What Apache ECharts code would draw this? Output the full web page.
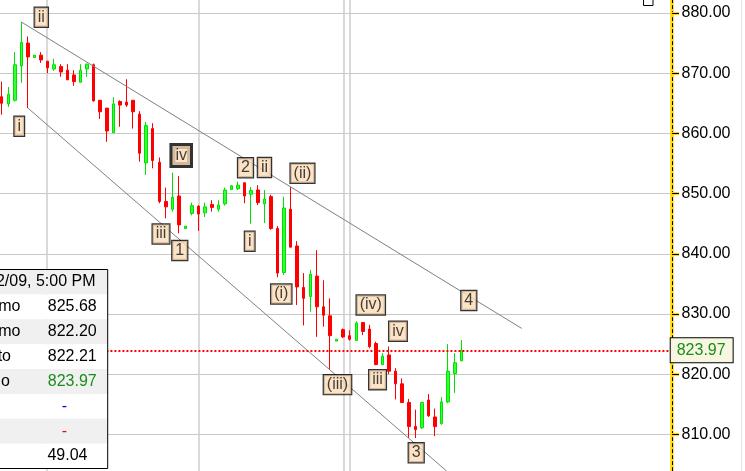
<!DOCTYPE html>
<html><head><meta charset="utf-8">
<script src="https://cdn.jsdelivr.net/npm/echarts@6/dist/echarts.min.js"></script>
<style>html,body{margin:0;padding:0;background:#fff}#c{width:745px;height:471px}</style>
</head><body><div id="c"></div>
<script>
// ---- data ----
const opens  = [866.1,864.9,865.5,871.2,875.0,872.6,873.0,872.0,870.7,871.1,870.5,869.7,868.5,870.7,871.4,865.5,864.2,860.1,865.3,865.2,
                865.5,863.2,855.1,860.8,855.2,848.7,847.4,849.6,844.2,846.7,847.9,846.8,848.2,847.4,848.3,850.7,850.8,851.8,849.9,850.6,
                848.3,849.5,844.2,836.9,847.4,841.3,834.4,832.9,836.3,831.2,829.7,825.5,827.4,826.4,825.6,828.6,827.5,825.1,821.6,823.2,
                820.5,818.4,815.3,811.3,811.1,815.7,812.9,811.8,815.4,820.1,822.21];
const highs  = [868.6,867.7,873.5,878.5,876.1,873.0,873.5,872.0,872.4,871.5,871.5,870.5,871.5,871.6,871.6,865.5,864.2,866.0,865.5,869.0,
                865.5,863.7,861.9,861.7,856.0,851.0,853.5,852.9,844.6,848.5,848.1,848.5,848.9,848.9,851.0,851.4,852.0,851.8,851.1,851.4,
                850.6,849.8,844.6,849.5,851.1,842.1,836.8,837.3,840.6,835.6,832.6,825.8,827.6,827.3,828.8,828.6,828.2,825.4,823.5,824.6,
                821.0,819.3,815.9,814.1,815.4,816.7,814.3,816.2,825.0,823.5,825.68];
const lows   = [863.1,864.4,865.3,868.4,864.2,872.6,871.7,870.0,870.4,869.4,868.9,867.9,868.5,869.4,865.3,862.4,858.6,860.1,861.1,864.4,
                860.8,855.3,853.1,854.2,848.4,845.9,847.0,843.4,844.2,846.4,843.8,846.1,847.0,847.0,848.0,850.6,850.6,848.4,845.0,848.1,
                845.1,844.0,836.1,836.5,841.1,831.5,828.1,830.4,826.2,827.9,820.7,825.5,826.0,825.6,825.6,826.5,824.3,821.5,821.5,820.0,
                815.8,815.2,809.4,809.4,810.9,812.9,809.7,811.6,815.2,816.9,822.20];
const closes = [865.0,866.5,871.4,875.1,872.7,873.0,872.2,870.9,871.4,870.2,868.9,868.6,870.5,871.5,865.4,863.6,860.4,864.9,864.7,864.7,
                863.6,856.7,861.3,855.5,848.7,847.8,849.4,844.8,844.6,848.0,846.6,847.8,847.7,848.1,850.6,851.3,851.4,849.6,850.5,848.5,
                849.1,844.2,836.8,847.6,841.1,834.5,832.6,836.6,831.2,829.8,826.4,825.8,826.2,825.8,828.5,827.1,824.6,821.6,823.0,820.5,
                818.4,815.3,811.3,810.8,815.3,813.1,811.3,815.4,820.5,821.9,823.97];

// wave annotations: text, bar index, price
const waveText  = ['ii','i','iv','iii','1','2','ii','i','(ii)','(i)','(iii)','(iv)','iv','iii','3','4'];
const waveIndex = [6.03,2.67,27.34,24.26,27.12,37.13,40.02,37.77,45.81,42.58,51.14,56.21,60.35,57.24,63.13,71.14];
const wavePrice = [879.29,861.18,856.33,843.29,840.55,854.29,854.34,842.09,853.37,833.32,818.26,831.50,827.14,819.09,806.94,832.24];

// channel lines: [bar index, price]
const upperChannel = [[3, 878.5], [79.2, 827.6]];
const lowerChannel = [[4, 864.2], [67.77, 803.9]];

// session separators (bar index positions)
const sessionBreaks = [6.9, 30.05, 52.06, 52.97];

// info panel
const infoDate = '12/02/09, 5:00 PM';
const infoLabels = ['Máximo', 'Mínimo', 'Abierto', 'Precio'];
const infoIndicator = 49.04;

// ---- chart ----
const FONT = '"Liberation Sans", Arial, sans-serif';
const N_BANDS = 103;
const categories = opens.map((_, i) => String(i + 1));
while (categories.length < N_BANDS) categories.push('');
const candleData = opens.map((o, i) => [o, closes[i], lows[i], highs[i]]);
const last = opens.length - 1;
const lastClose = closes[last];

const chart = echarts.init(document.getElementById('c'), null, {renderer: 'canvas'});

// info box graphic
const boxTop = 269.5, rowH = 24.875, boxLeft = -20, boxRight = 107.7;
const labelRight = [20.5, 20.5, 11, 10];
const ZB = 100;
const infoChildren = [];
for (let r = 0; r < 8; r++) {
  infoChildren.push({type: 'rect', z: ZB, shape: {x: boxLeft, y: boxTop + r * rowH, width: boxRight - boxLeft, height: rowH},
    style: {fill: (r % 2 === 0) ? '#f0f0f0' : '#ffffff'}});
}
infoChildren.push({type: 'rect', z: ZB + 1, shape: {x: boxLeft, y: boxTop, width: boxRight - boxLeft, height: rowH * 8},
  style: {fill: 'none', stroke: '#000', lineWidth: 1}});
infoChildren.push({type: 'text', z: ZB + 2, style: {text: infoDate, x: 95.5, y: boxTop + rowH * 0.5, align: 'right', verticalAlign: 'middle',
  font: '16px ' + FONT, fill: '#000'}});
const infoValues = [highs[last], lows[last], opens[last], closes[last]];
const infoColors = ['#000', '#000', '#000', '#1a8c1a'];
infoLabels.forEach((lab, i) => {
  const cy = boxTop + rowH * (i + 1.5);
  infoChildren.push({type: 'text', z: ZB + 2, style: {text: lab, x: labelRight[i], y: cy, align: 'right', verticalAlign: 'middle', font: '16px ' + FONT, fill: '#000'}});
  infoChildren.push({type: 'text', z: ZB + 2, style: {text: infoValues[i].toFixed(2), x: 96.7, y: cy, align: 'right', verticalAlign: 'middle', font: '16px ' + FONT, fill: infoColors[i]}});
});
infoChildren.push({type: 'text', z: ZB + 2, style: {text: '-', x: 64.5, y: boxTop + rowH * 5.5, align: 'center', verticalAlign: 'middle', font: '16px ' + FONT, fill: '#0000ff'}});
infoChildren.push({type: 'text', z: ZB + 2, style: {text: '-', x: 64.5, y: boxTop + rowH * 6.5, align: 'center', verticalAlign: 'middle', font: '16px ' + FONT, fill: '#ff0000'}});
infoChildren.push({type: 'text', z: ZB + 2, style: {text: infoIndicator.toFixed(2), x: 87.5, y: boxTop + rowH * 7.5, align: 'right', verticalAlign: 'middle', font: '16px ' + FONT, fill: '#000'}});

const option = {
  animation: false,
  backgroundColor: '#ffffff',
  grid: {left: -1.58, right: 745 - (-1.58 + N_BANDS * 6.566), top: -47.2, bottom: -23.6, containLabel: false, outerBoundsMode: 'none'},
  xAxis: [
    {type: 'category', data: categories, boundaryGap: true, show: false},
    {type: 'value', min: -0.5, max: N_BANDS - 0.5, show: false}
  ],
  yAxis: [
    {type: 'value', position: 'right', min: 800, max: 890, interval: 10, offset: -2.7,
     axisLine: {show: true, onZero: false, lineStyle: {color: '#ffd700', width: 3.5}},
     axisTick: {show: true, length: 7, lineStyle: {color: '#ffd700', width: 3}},
     axisLabel: {show: true, margin: 9.5, color: '#000', fontSize: 16, fontFamily: FONT, formatter: v => v.toFixed(2)},
     splitLine: {show: true, lineStyle: {color: '#c8c8c8', width: 1}}},
    {type: 'value', position: 'right', min: 800, max: 890, interval: 10, offset: -2.7,
     axisLine: {show: true, onZero: false, lineStyle: {color: '#000', width: 1, type: [3, 3]}},
     axisTick: {show: true, length: 7, lineStyle: {color: '#000', width: 1}},
     axisLabel: {show: false}, splitLine: {show: false}}
  ],
  series: [
    {type: 'line', xAxisIndex: 1, yAxisIndex: 0, data: [], z: 1, silent: true,
     markLine: {silent: true, symbol: 'none', z: 1, label: {show: false},
       lineStyle: {color: '#cccccc', width: 1.5, type: 'solid'},
       data: sessionBreaks.map(v => ({xAxis: v}))}},
    {type: 'candlestick', xAxisIndex: 0, yAxisIndex: 0, data: candleData, barWidth: 3, z: 3,
     itemStyle: {color: '#33ff33', color0: '#ff0000', borderColor: '#00e000', borderColor0: '#ff0000', borderWidth: 1},
     markLine: {silent: true, symbol: 'none', z: 6,
       lineStyle: {color: '#ff0000', width: 2, type: [2, 2]},
       label: {show: true, position: 'end', distance: -4, formatter: () => lastClose.toFixed(2),
         color: '#1a8c1a', fontSize: 16, fontFamily: FONT, backgroundColor: '#f7f7e1', borderColor: '#000', borderWidth: 1,
         padding: [3, 7, 3, 6], lineHeight: 18},
       data: [{yAxis: lastClose}]}},
    {type: 'line', xAxisIndex: 1, yAxisIndex: 0, data: upperChannel, symbol: 'none', z: 4, silent: true,
     lineStyle: {color: '#808080', width: 1}},
    {type: 'line', xAxisIndex: 1, yAxisIndex: 0, data: lowerChannel, symbol: 'none', z: 4, silent: true,
     lineStyle: {color: '#808080', width: 1}},
    {type: 'scatter', xAxisIndex: 1, yAxisIndex: 0, symbolSize: 1, z: 7, silent: true,
     itemStyle: {color: 'rgba(0,0,0,0)'},
     label: {show: true, position: 'inside', formatter: p => p.name, fontSize: 16, fontFamily: FONT, color: '#111',
       backgroundColor: '#fbdcb8', borderColor: '#000', borderWidth: 1.2, padding: [1, 3], lineHeight: 17},
     data: waveText.map((t, i) => ({name: t, value: [waveIndex[i], wavePrice[i]],
       label: i === 2 ? {borderWidth: 3} : {}}))}
  ],
  graphic: [
    {type: 'group', z: ZB, children: infoChildren},
    {type: 'rect', z: ZB, shape: {x: 643.5, y: -4, width: 9.5, height: 9.5}, style: {fill: '#fff', stroke: '#000', lineWidth: 1}},
    {type: 'line', z: ZB, shape: {x1: 741.5, y1: 0, x2: 741.5, y2: 471}, style: {stroke: '#e4e4e4', lineWidth: 1}}
  ]
};
chart.setOption(option);
</script></body></html>
